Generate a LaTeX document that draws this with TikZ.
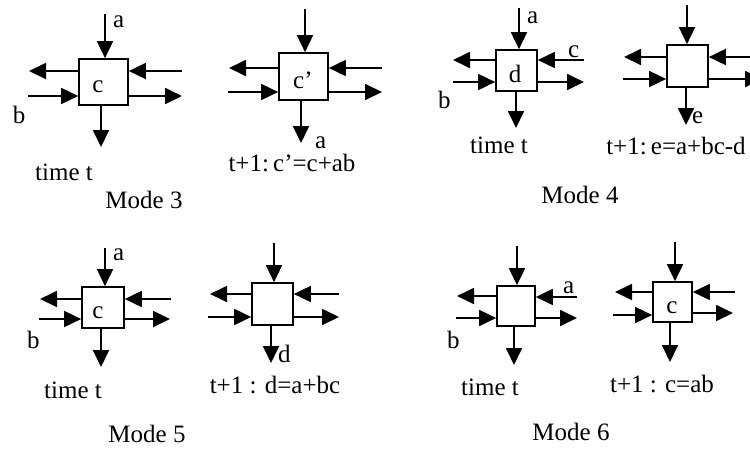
\documentclass[tikz,border=0pt]{standalone}
\usepackage{fontspec}
\setmainfont{Liberation Serif}
\usetikzlibrary{arrows.meta}
\tikzset{
  cell/.style={draw, line width=1.7pt, inner sep=0pt, fill=white},
  wire/.style={line width=1.8pt, -{Triangle[length=17pt,width=16pt]}},
  lbl/.style={inner sep=0pt, font=\fontsize{25}{30}\selectfont},
}
\begin{document}
\begin{tikzpicture}[x=1pt,y=-1pt]
\useasboundingbox (0,0) rectangle (750,456);

% ---------- Panel 1 (Mode 3, time t)
\node[cell, minimum width=49pt, minimum height=46pt] (p1) at (103.5,82) {};
\coordinate (p1t) at (105,14);
\coordinate (p1lo) at (29,71);
\coordinate (p1li) at (28,96);
\coordinate (p1ri) at (182,71);
\coordinate (p1ro) at (182,96);
\coordinate (p1bo) at (101,147);
\draw[wire] (p1t) -- (p1t |- p1.north);
\draw[wire] (p1lo -| p1.west) -- (p1lo);
\draw[wire] (p1li) -- (p1li -| p1.west);
\draw[wire] (p1ri) -- (p1ri -| p1.east);
\draw[wire] (p1ro -| p1.east) -- (p1ro);
\draw[wire] (p1bo |- p1.south) -- (p1bo);
\node[lbl, anchor=base west] (p1a) at (113,27) {a};
\node[lbl, anchor=base] (p1b) at (19,123) {b};
\node[lbl, anchor=base] (p1c) at (98,92) {c};
\node[lbl, anchor=base] (p1txt) at (64,180) {time t};

% ---------- Panel 2 (Mode 3, t+1)
\node[cell, minimum width=49pt, minimum height=47pt] (p2) at (303.5,76.5) {};
\coordinate (p2t) at (305,9);
\coordinate (p2lo) at (229,68);
\coordinate (p2li) at (228,92);
\coordinate (p2ri) at (382,68);
\coordinate (p2ro) at (382,92);
\coordinate (p2bo) at (301,143);
\draw[wire] (p2t) -- (p2t |- p2.north);
\draw[wire] (p2lo -| p2.west) -- (p2lo);
\draw[wire] (p2li) -- (p2li -| p2.west);
\draw[wire] (p2ri) -- (p2ri -| p2.east);
\draw[wire] (p2ro -| p2.east) -- (p2ro);
\draw[wire] (p2bo |- p2.south) -- (p2bo);
\node[lbl, anchor=base west] (p2c) at (293,88) {c’};
\node[lbl, anchor=base west] (p2a) at (315,148) {a};
\node[lbl, anchor=base] (p2txt) at (292,171) {t+1:\,c’=c+ab};

\node[lbl, anchor=base] (m3) at (144,208) {Mode 3};

% ---------- Panel 3 (Mode 4, time t)
\node[cell, minimum width=41pt, minimum height=41pt] (p3) at (516.5,70.5) {};
\coordinate (p3t) at (519,8);
\coordinate (p3lo) at (453,60);
\coordinate (p3li) at (453,82);
\coordinate (p3ri) at (584,60);
\coordinate (p3ro) at (584,82);
\coordinate (p3bo) at (516,128);
\draw[wire] (p3t) -- (p3t |- p3.north);
\draw[wire] (p3lo -| p3.west) -- (p3lo);
\draw[wire] (p3li) -- (p3li -| p3.west);
\draw[wire] (p3ri) -- (p3ri -| p3.east);
\draw[wire] (p3ro -| p3.east) -- (p3ro);
\draw[wire] (p3bo |- p3.south) -- (p3bo);
\node[lbl, anchor=base west] (p3a) at (527,23) {a};
\node[lbl, anchor=base west] (p3c) at (568,57) {c};
\node[lbl, anchor=base west] (p3b) at (438,108) {b};
\node[lbl, anchor=base] (p3d) at (515,82) {d};
\node[lbl, anchor=base] (p3txt) at (499,153) {time t};

% ---------- Panel 4 (Mode 4, t+1)
\node[cell, minimum width=41pt, minimum height=42pt] (p4) at (687.5,66) {};
\coordinate (p4t) at (687,5);
\coordinate (p4lo) at (624,57);
\coordinate (p4li) at (623,79);
\coordinate (p4ri) at (760,57);
\coordinate (p4ro) at (762,79);
\coordinate (p4bo) at (686,125);
\draw[wire] (p4t) -- (p4t |- p4.north);
\draw[wire] (p4lo -| p4.west) -- (p4lo);
\draw[wire] (p4li) -- (p4li -| p4.west);
\draw[wire] (p4ri) -- (p4ri -| p4.east);
\draw[wire] (p4ro -| p4.east) -- (p4ro);
\draw[wire] (p4bo |- p4.south) -- (p4bo);
\node[lbl, anchor=base west] (p4e) at (692,123) {e};
\node[lbl, anchor=base] (p4txt) at (676,154) {t+1:\,e=a+bc-d};

\node[lbl, anchor=base] (m4) at (580,203) {Mode 4};

% ---------- Panel 5 (Mode 5, time t)
\node[cell, minimum width=42pt, minimum height=41pt] (p5) at (103,307.5) {};
\coordinate (p5t) at (105,248);
\coordinate (p5lo) at (40,299);
\coordinate (p5li) at (39,319);
\coordinate (p5ri) at (171,299);
\coordinate (p5ro) at (170,319);
\coordinate (p5bo) at (101,367);
\draw[wire] (p5t) -- (p5t |- p5.north);
\draw[wire] (p5lo -| p5.west) -- (p5lo);
\draw[wire] (p5li) -- (p5li -| p5.west);
\draw[wire] (p5ri) -- (p5ri -| p5.east);
\draw[wire] (p5ro -| p5.east) -- (p5ro);
\draw[wire] (p5bo |- p5.south) -- (p5bo);
\node[lbl, anchor=base west] (p5a) at (113,260) {a};
\node[lbl, anchor=base west] (p5b) at (27,348) {b};
\node[lbl, anchor=base] (p5c) at (98,318) {c};
\node[lbl, anchor=base] (p5txt) at (73,398) {time t};

\node[lbl, anchor=base] (m5) at (147,442) {Mode 5};

% ---------- Panel 6 (Mode 5, t+1)
\node[cell, minimum width=41pt, minimum height=42pt] (p6) at (272.5,304) {};
\coordinate (p6t) at (274,243);
\coordinate (p6lo) at (210,294);
\coordinate (p6li) at (208,317);
\coordinate (p6ri) at (339,294);
\coordinate (p6ro) at (339,317);
\coordinate (p6bo) at (271,363);
\draw[wire] (p6t) -- (p6t |- p6.north);
\draw[wire] (p6lo -| p6.west) -- (p6lo);
\draw[wire] (p6li) -- (p6li -| p6.west);
\draw[wire] (p6ri) -- (p6ri -| p6.east);
\draw[wire] (p6ro -| p6.east) -- (p6ro);
\draw[wire] (p6bo |- p6.south) -- (p6bo);
\node[lbl, anchor=base west] (p6d) at (278,362) {d};
\node[lbl, anchor=base] (p6txt) at (275,393) {t+1 : d=a+bc};

% ---------- Panel 7 (Mode 6, time t)
\node[cell, minimum width=38pt, minimum height=40pt] (p7) at (516,306) {};
\coordinate (p7t) at (517,246);
\coordinate (p7lo) at (457,296);
\coordinate (p7li) at (456,318);
\coordinate (p7ri) at (577,297);
\coordinate (p7ro) at (577,318);
\coordinate (p7bo) at (514,365);
\draw[wire] (p7t) -- (p7t |- p7.north);
\draw[wire] (p7lo -| p7.west) -- (p7lo);
\draw[wire] (p7li) -- (p7li -| p7.west);
\draw[wire] (p7ri) -- (p7ri -| p7.east);
\draw[wire] (p7ro -| p7.east) -- (p7ro);
\draw[wire] (p7bo |- p7.south) -- (p7bo);
\node[lbl, anchor=base west] (p7a) at (563,293) {a};
\node[lbl, anchor=base west] (p7b) at (447,348) {b};
\node[lbl, anchor=base] (p7txt) at (490,395) {time t};

\node[lbl, anchor=base] (m6) at (571,440) {Mode 6};

% ---------- Panel 8 (Mode 6, t+1)
\node[cell, minimum width=39pt, minimum height=40pt] (p8) at (672.5,302) {};
\coordinate (p8t) at (675,242);
\coordinate (p8lo) at (615,292);
\coordinate (p8li) at (613,315);
\coordinate (p8ri) at (735,292);
\coordinate (p8ro) at (733,313);
\coordinate (p8bo) at (670,362);
\draw[wire] (p8t) -- (p8t |- p8.north);
\draw[wire] (p8lo -| p8.west) -- (p8lo);
\draw[wire] (p8li) -- (p8li -| p8.west);
\draw[wire] (p8ri) -- (p8ri -| p8.east);
\draw[wire] (p8ro -| p8.east) -- (p8ro);
\draw[wire] (p8bo |- p8.south) -- (p8bo);
\node[lbl, anchor=base] (p8c) at (672,313) {c};
\node[lbl, anchor=base] (p8txt) at (662,392) {t+1 : c=ab};
\end{tikzpicture}
\end{document}
